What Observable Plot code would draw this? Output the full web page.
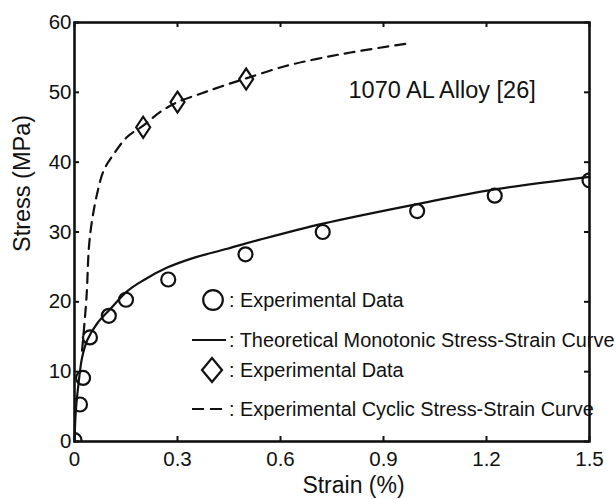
<!DOCTYPE html>
<html><head><meta charset="utf-8">
<script src="https://cdn.jsdelivr.net/npm/d3@7"></script>
<script src="https://cdn.jsdelivr.net/npm/@observablehq/plot@0.6"></script>
<style>
html,body{margin:0;padding:0;background:#fff;}
#chart svg{display:block;}
</style></head><body><div id="chart"></div>
<script>
// ---- data ----
const strainExp = [0, 0.016, 0.025, 0.045, 0.10, 0.15, 0.273, 0.498, 0.723, 0.998, 1.224, 1.5];
const stressExp = [0.2, 5.3, 9.1, 14.9, 18.0, 20.3, 23.2, 26.8, 30.0, 33.0, 35.2, 37.4];

const strainMono = [0, 0.004, 0.0125, 0.022, 0.037, 0.066, 0.105, 0.153, 0.201, 0.27, 0.347, 0.445, 0.54, 0.724, 0.998, 1.224, 1.5];
const stressMono = [0, 4.5, 8.6, 12.0, 14.5, 16.9, 19.0, 21.5, 23.1, 24.9, 26.3, 27.6, 28.9, 31.2, 34.0, 36.1, 37.9];

const strainCyc = [0.022, 0.035, 0.042, 0.051, 0.066, 0.085, 0.115, 0.153, 0.202, 0.25, 0.30, 0.367, 0.425, 0.50, 0.61, 0.707, 0.804, 0.97];
const stressCyc = [13.0, 20.7, 27.8, 31.6, 35.5, 38.8, 41.2, 43.6, 45.3, 47.2, 48.6, 49.8, 50.8, 52.0, 53.7, 54.8, 55.7, 57.0];

const strainDia = [0.2, 0.3, 0.5];
const stressDia = [45.0, 48.6, 51.9];

const xTicks = [0, 0.3, 0.6, 0.9, 1.2, 1.5];
const xTickLabels = ["0", "0.3", "0.6", "0.9", "1.2", "1.5"];
const yTicks = [0, 10, 20, 30, 40, 50, 60];
const yTickLabels = ["0", "10", "20", "30", "40", "50", "60"];

const xLabel = "Strain (%)";
const yLabel = "Stress (MPa)";
const annotation = "1070 AL Alloy [26]";
const legendLabels = [": Experimental Data", ": Theoretical Monotonic Stress-Strain Curve", ": Experimental Data", ": Experimental Cyclic Stress-Strain Curve"];

// ---- tables ----
const expPts = strainExp.map((x, i) => ({x, y: stressExp[i]}));
const mono = strainMono.map((x, i) => ({x, y: stressMono[i]}));
const cyc = strainCyc.map((x, i) => ({x, y: stressCyc[i]}));
const dia = strainDia.map((x, i) => ({x, y: stressDia[i]}));

const INK = "#111";
const FONT = "'Liberation Sans', Arial, Helvetica, sans-serif";

const W = 616, H = 499;
const mL = 74, mR = 27, mT = 22, mB = 58;
const pw = W - mL - mR, ph = H - mT - mB;

const tallDiamond = {
  draw(ctx, size) {
    const r = Math.sqrt(size / Math.PI);
    const hw = r, hh = r * 1.5;
    ctx.moveTo(0, -hh); ctx.lineTo(hw, 0); ctx.lineTo(0, hh); ctx.lineTo(-hw, 0); ctx.closePath();
  }
};

function legend() {
  const g = d3.create("svg:g").attr("font-family", FONT).attr("font-size", 19.9)
    .attr("fill", INK).attr("text-anchor", "start");
  const rows = [300, 340, 370, 409];
  g.append("circle").attr("cx", 213).attr("cy", rows[0]).attr("r", 9.8)
    .attr("fill", "none").attr("stroke", INK).attr("stroke-width", 2.2);
  g.append("line").attr("x1", 192).attr("x2", 226).attr("y1", rows[1]).attr("y2", rows[1])
    .attr("stroke", INK).attr("stroke-width", 2.2);
  g.append("path").attr("d", `M212,${rows[2]-12}L222,${rows[2]}L212,${rows[2]+12}L202,${rows[2]}Z`)
    .attr("fill", "none").attr("stroke", INK).attr("stroke-width", 2.2);
  g.append("line").attr("x1", 192).attr("x2", 223).attr("y1", rows[3]).attr("y2", rows[3])
    .attr("stroke", INK).attr("stroke-width", 2.2).attr("stroke-dasharray", "12,6");
  legendLabels.forEach((t, i) => {
    g.append("text").attr("x", 229).attr("y", rows[i]).attr("dy", "0.35em")
      .attr("text-anchor", "start").text(t);
  });
  return g.node();
}

const chart = Plot.plot({
  width: W, height: H,
  marginLeft: mL, marginRight: mR, marginTop: mT, marginBottom: mB,
  style: {fontFamily: FONT, fontSize: "20.5px", color: INK, background: "#fff", overflow: "visible"},
  x: {domain: [0, 1.5]},
  y: {domain: [0, 60]},
  marks: [
    Plot.tickX(xTicks, {x: d => d, stroke: INK, strokeWidth: 2, insetTop: ph - 5}),
    Plot.tickX(xTicks, {x: d => d, stroke: INK, strokeWidth: 2, insetBottom: ph - 5}),
    Plot.tickY(yTicks, {y: d => d, stroke: INK, strokeWidth: 2, insetRight: pw - 5}),
    Plot.tickY(yTicks, {y: d => d, stroke: INK, strokeWidth: 2, insetLeft: pw - 5}),
    Plot.axisX({ticks: xTicks, tickFormat: (d, i) => xTickLabels[i], tickSize: 0, tickPadding: 10, label: null, fill: INK}),
    Plot.axisY({ticks: yTicks, tickFormat: (d, i) => yTickLabels[i], tickSize: 0, tickPadding: 3, label: null, fill: INK}),
    Plot.line(mono, {x: "x", y: "y", curve: "catmull-rom", stroke: INK, strokeWidth: 2.2}),
    Plot.line(cyc, {x: "x", y: "y", curve: "catmull-rom", stroke: INK, strokeWidth: 2.2, strokeDasharray: "10,7"}),
    Plot.dot(expPts, {x: "x", y: "y", r: 7, stroke: INK, strokeWidth: 2.2, fill: "none", clip: "frame"}),
    Plot.dot(dia, {x: "x", y: "y", r: 7, symbol: tallDiamond, stroke: INK, strokeWidth: 2.2, fill: "none"}),
    Plot.text([annotation], {text: d => d, frameAnchor: "top-left", dx: 274, dy: 68, textAnchor: "start", lineAnchor: "middle", fontSize: 23.5, fill: INK}),
    Plot.text([xLabel], {text: d => d, frameAnchor: "bottom-left", dx: 279, dy: 44, textAnchor: "middle", lineAnchor: "middle", fontSize: 23, fill: INK}),
    Plot.text([yLabel], {text: d => d, frameAnchor: "top-left", dx: -52, dy: 161, rotate: -90, textAnchor: "middle", lineAnchor: "middle", fontSize: 23.5, fill: INK}),
    legend,
    Plot.frame({stroke: INK, strokeWidth: 2.6})
  ]
});
document.getElementById("chart").appendChild(chart);
</script>
</body></html>
